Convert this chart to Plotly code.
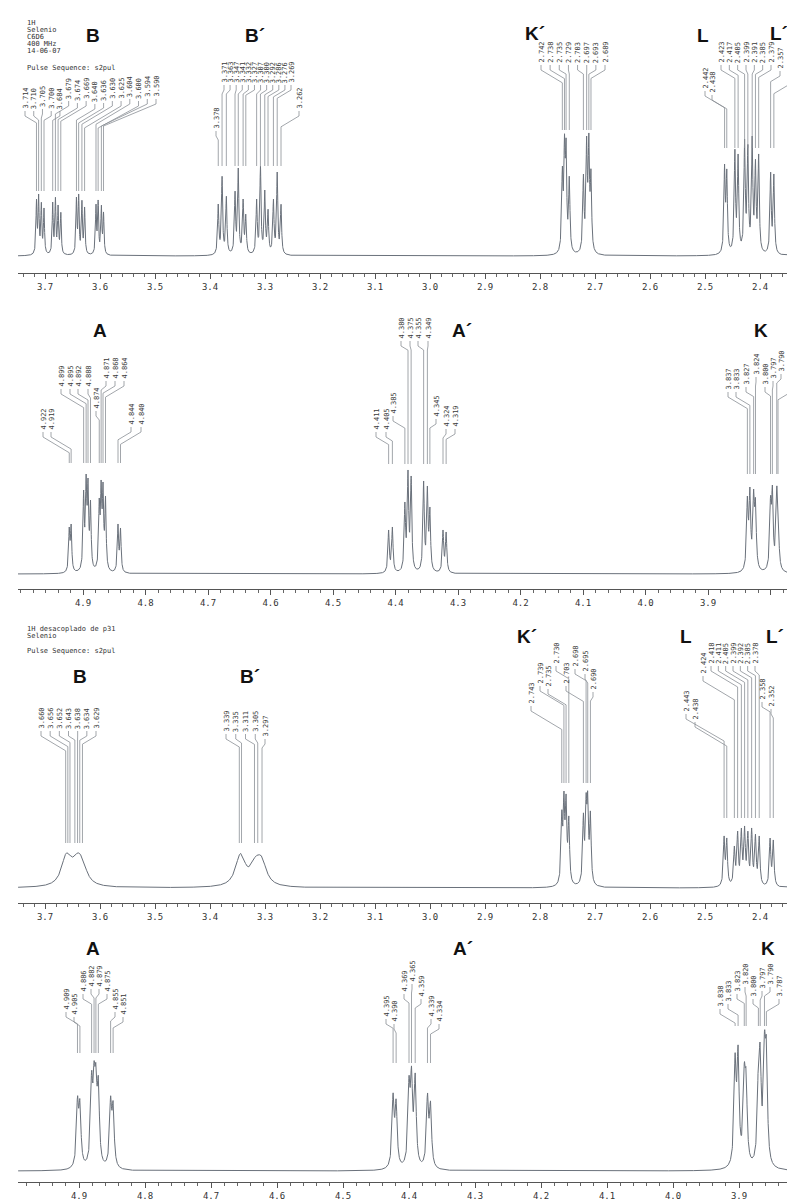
import numpy as np
import plotly.graph_objects as go

W, H = 795, 1200

# ================= DATA =================
# *_lab : values printed above the peaks;  *_pos : where the peaks sit on the drawn ppm axis
# Panel 1 : 1H, Selenio, C6D6, coupled
p1_ticks = [3.7, 3.6, 3.5, 3.4, 3.3, 3.2, 3.1, 3.0, 2.9, 2.8, 2.7, 2.6, 2.5, 2.4]
p1_B_lab = [3.714, 3.710, 3.705, 3.700, 3.684, 3.679, 3.674, 3.669,
            3.640, 3.636, 3.630, 3.625, 3.604, 3.600, 3.594, 3.590]
p1_B_pos = [3.7155, 3.7116, 3.7067, 3.7018, 3.6860, 3.6811, 3.6762, 3.6713,
            3.6428, 3.6388, 3.6329, 3.6280, 3.6073, 3.6034, 3.5975, 3.5936]
p1_B_int = [57, 62, 54, 48, 54, 59, 51, 44, 59, 62, 56, 49, 52, 56, 51, 44]
p1_Bp_lab = [3.378, 3.371, 3.363, 3.347, 3.341, 3.332, 3.327,
             3.307, 3.300, 3.292, 3.286, 3.276, 3.269, 3.262]
p1_Bp_pos = [3.3850, 3.3781, 3.3703, 3.3545, 3.3486, 3.3398, 3.3349,
             3.3152, 3.3083, 3.3004, 3.2945, 3.2847, 3.2778, 3.2709]
p1_Bp_int = [52, 80, 60, 65, 88, 57, 42, 57, 90, 66, 47, 57, 84, 52]
p1_Kp_lab = [2.742, 2.738, 2.735, 2.729, 2.703, 2.697, 2.693, 2.689]
p1_Kp_pos = [2.7594, 2.7555, 2.7526, 2.7467, 2.7211, 2.7152, 2.7112, 2.7073]
p1_Kp_int = [90, 122, 118, 80, 82, 120, 123, 87]
p1_L_lab = [2.442, 2.438, 2.423, 2.417, 2.405, 2.399, 2.391, 2.385, 2.379, 2.357, 2.351]
p1_L_pos = [2.4644, 2.4604, 2.4457, 2.4398, 2.4280, 2.4221, 2.4142, 2.4083, 2.4024, 2.3807, 2.3748]
p1_L_int = [92, 87, 107, 102, 117, 112, 120, 97, 102, 84, 82]

# Panel 2 : coupled, A / A' / K region
p2_ticks = [4.9, 4.8, 4.7, 4.6, 4.5, 4.4, 4.3, 4.2, 4.1, 4.0, 3.9]
p2_A_lab = [4.922, 4.919, 4.899, 4.895, 4.892, 4.888, 4.874, 4.871, 4.868, 4.864, 4.844, 4.840]
p2_A_pos = p2_A_lab
p2_A_int = [47, 50, 84, 100, 96, 74, 76, 94, 92, 78, 50, 46]
p2_Ap_lab = [4.411, 4.405, 4.385, 4.380, 4.375, 4.355, 4.349, 4.345, 4.324, 4.319]
p2_Ap_pos = p2_Ap_lab
p2_Ap_int = [44, 47, 72, 104, 98, 93, 88, 67, 44, 42]
p2_K_lab = [3.837, 3.833, 3.827, 3.824, 3.800, 3.797, 3.790, 3.788]
p2_K_pos = p2_K_lab
p2_K_int = [78, 87, 85, 76, 78, 89, 87, 76]

# Panel 3 : 1H desacoplado de p31
p3_ticks = p1_ticks
p3_B_lab = [3.660, 3.656, 3.652, 3.643, 3.638, 3.634, 3.629]
p3_B_pos = [3.6624, 3.6585, 3.6546, 3.6457, 3.6408, 3.6368, 3.6319]
p3_B_int = [34, 35, 33, 32, 35, 34, 30]
p3_Bp_lab = [3.339, 3.335, 3.311, 3.305, 3.297]
p3_Bp_pos = [3.3467, 3.3427, 3.3191, 3.3132, 3.3054]
p3_Bp_int = [33, 34, 30, 33, 31]
p3_Kp_lab = [2.743, 2.739, 2.735, 2.730, 2.703, 2.698, 2.695, 2.690]
p3_Kp_pos = [2.7604, 2.7565, 2.7526, 2.7476, 2.7211, 2.7162, 2.7132, 2.7083]
p3_Kp_int = [78, 97, 94, 72, 75, 95, 97, 77]
p3_L_lab = [2.443, 2.438, 2.424, 2.418, 2.411, 2.405, 2.399, 2.392, 2.385, 2.378, 2.358, 2.352]
p3_L_pos = [2.4653, 2.4604, 2.4466, 2.4407, 2.4339, 2.4280, 2.4221, 2.4152, 2.4083, 2.4014, 2.3817, 2.3758]
p3_L_int = [52, 50, 42, 57, 60, 62, 57, 60, 54, 52, 50, 48]

# Panel 4 : decoupled, A / A' / K region
p4_ticks = p2_ticks
p4_A_lab = [4.909, 4.905, 4.886, 4.882, 4.879, 4.875, 4.855, 4.851]
p4_A_pos = [4.9023, 4.8986, 4.8809, 4.8772, 4.8744, 4.8707, 4.8521, 4.8483]
p4_A_int = [75, 72, 100, 110, 108, 95, 75, 70]
p4_Ap_lab = [4.395, 4.390, 4.369, 4.365, 4.359, 4.339, 4.334]
p4_Ap_pos = [4.4241, 4.4195, 4.4000, 4.3962, 4.3906, 4.3720, 4.3674]
p4_Ap_int = [78, 72, 95, 105, 98, 78, 70]
p4_K_lab = [3.838, 3.833, 3.823, 3.820, 3.800, 3.797, 3.790, 3.787]
p4_K_pos = [3.9059, 3.9014, 3.8920, 3.8892, 3.8706, 3.8679, 3.8614, 3.8585]
p4_K_int = [118, 126, 108, 102, 113, 128, 140, 134]

header1 = ["1H", "Selenio", "C6D6", "400 MHz", "14-06-07"]
header3 = ["1H desacoplado de p31", "Selenio"]
pulse_seq = "Pulse Sequence: s2pul"

# ================= LAYOUT (pixel geometry of the panels) =================
panels = [
    dict(axis=265, base=248, top=0,   ref_ppm=3.7, ref_px=37, pxpp=550, ticks=p1_ticks, extra=[]),
    dict(axis=581, base=566, top=290, ref_ppm=4.9, ref_px=75, pxpp=625, ticks=p2_ticks, extra=[3.8]),
    dict(axis=895, base=880, top=600, ref_ppm=3.7, ref_px=37, pxpp=550, ticks=p3_ticks, extra=[]),
    dict(axis=1174, base=1163, top=915, ref_ppm=4.9, ref_px=71, pxpp=660, ticks=p4_ticks, extra=[]),
]
XL, XR = 10, 795

def px2ppm(p, px):
    return p["ref_ppm"] - (px - p["ref_px"]) / p["pxpp"]

def ppm2px(p, v):
    return p["ref_px"] + (p["ref_ppm"] - v) * p["pxpp"]

def h_of(p, py):
    return p["base"] - py

def lin(a, b, n):
    return [a + (b - a) * i / (n - 1) for i in range(n)]

groups = [
    # panel 1
    dict(pi=0, lab=p1_B_lab, pos=p1_B_pos, inten=p1_B_int, hw=0.0011, letter=("B", 85, 27),
         lx=lin(17, 148, 16), lb=[102, 102, 100, 102, 102, 92, 94, 92, 95, 94, 92, 92, 90, 92, 90, 90], end=183),
    dict(pi=0, lab=p1_Bp_lab, pos=p1_Bp_pos, inten=p1_Bp_int, hw=0.0013, letter=("B´", 247, 27),
         lx=[208] + lin(216, 283, 12) + [291], lb=[122] + [76] * 12 + [102], end=158),
    dict(pi=0, lab=p1_Kp_lab, pos=p1_Kp_pos, inten=p1_Kp_int, hw=0.0014, letter=("K´", 527, 25),
         lx=lin(533, 597, 8), lb=[56] * 8, end=122),
    dict(pi=0, lab=p1_L_lab, pos=p1_L_pos, inten=p1_L_int, hw=0.0014, letter=("L", 695, 27),
         lx=[697, 704] + lin(713, 763, 7) + [772, 782], lb=[82, 86] + [56] * 7 + [62, 70], end=140),
    # panel 2
    dict(pi=1, lab=p2_A_lab, pos=p2_A_pos, inten=p2_A_int, hw=0.0012, letter=("A", 92, 322),
         lx=[35, 43, 53, 62, 70, 80, 88, 98, 107, 116, 123, 133],
         lb=[423, 423, 380, 380, 380, 380, 402, 372, 372, 372, 418, 418], end=455),
    dict(pi=1, lab=p2_Ap_lab, pos=p2_Ap_pos, inten=p2_Ap_int, hw=0.0013, letter=("A´", 454, 322),
         lx=[368, 378, 385, 393, 402, 410, 420, 428, 438, 447],
         lb=[423, 423, 407, 332, 332, 332, 332, 410, 420, 420], end=456),
    dict(pi=1, lab=p2_K_lab, pos=p2_K_pos, inten=p2_K_int, hw=0.0015, letter=("K", 753, 322),
         lx=[720, 728, 738, 748, 757, 765, 773, 783],
         lb=[383, 383, 378, 368, 378, 372, 365, 378], end=466),
    # panel 3
    dict(pi=2, lab=p3_B_lab, pos=p3_B_pos, inten=p3_B_int, hw=0.010, letter=("B", 72, 668),
         lx=lin(33, 88, 7), lb=[722] * 7, end=835),
    dict(pi=2, lab=p3_Bp_lab, pos=p3_Bp_pos, inten=p3_Bp_int, hw=0.010, letter=("B´", 242, 668),
         lx=lin(218, 257, 5), lb=[725, 725, 725, 725, 730], end=835),
    dict(pi=2, lab=p3_Kp_lab, pos=p3_Kp_pos, inten=p3_Kp_int, hw=0.0016, letter=("K´", 519, 628),
         lx=[523, 532, 540, 548, 558, 567, 577, 585], lb=[697, 677, 680, 657, 677, 660, 665, 683], end=775),
    dict(pi=2, lab=p3_L_lab, pos=p3_L_pos, inten=p3_L_int, hw=0.0016, letter=("L", 678, 628),
         lx=[678, 687, 695] + lin(703, 747, 7) + [754, 763], lb=[705, 713, 667] + [657] * 7 + [693, 700], end=810),
    # panel 4
    dict(pi=3, lab=p4_A_lab, pos=p4_A_pos, inten=p4_A_int, hw=0.0019, letter=("A", 85, 940),
         lx=[58, 66, 75, 83, 91, 99, 107, 115], lb=[1003, 1008, 985, 980, 980, 985, 1003, 1008], end=1045),
    dict(pi=3, lab=p4_Ap_lab, pos=p4_Ap_pos, inten=p4_Ap_int, hw=0.0019, letter=("A´", 455, 940),
         lx=[378, 386, 396, 404, 413, 423, 431], lb=[1010, 1015, 985, 975, 990, 1010, 1015], end=1055),
    dict(pi=3, lab=p4_K_lab, pos=p4_K_pos, inten=p4_K_int, hw=0.0019, letter=("K", 760, 940),
         lx=[712, 720, 729, 737, 745, 754, 762, 771], lb=[1000, 995, 985, 978, 990, 982, 978, 990], end=1018),
]
extra_letters = [(0, "L´", 771, 25), (2, "L´", 767, 628)]

# ================= SPECTRA =================
def amplitudes(c, h, hw):
    c = np.asarray(c, float); h = np.asarray(h, float)
    M = 1.0 / (1.0 + ((c[:, None] - c[None, :]) / hw) ** 2)
    a = h.copy()
    for _ in range(400):
        a = a * h / (M @ a)
    return a

fig = go.Figure()
annotations = []
shapes = []
SPEC_COLOR = "#6a717b"
LINK_COLOR = "#8a8f96"
TEXT_COLOR = "#3a3a3a"

for k, p in enumerate(panels):
    n = "" if k == 0 else str(k + 1)
    left, right = px2ppm(p, XL), px2ppm(p, XR)
    x = np.arange(right, left, 0.0002)
    y = np.zeros_like(x)
    for g in groups:
        if g["pi"] != k:
            continue
        a = amplitudes(g["pos"], g["inten"], g["hw"])
        for ck, ak in zip(g["pos"], a):
            y += ak / (1.0 + ((x - ck) / g["hw"]) ** 2)
    fig.add_trace(go.Scatter(x=x, y=y, mode="lines", line=dict(color=SPEC_COLOR, width=1),
                             xaxis="x" + n, yaxis="y" + n, hoverinfo="skip", showlegend=False))
    tv = list(p["ticks"]) + p["extra"]
    tt = [f"{v:.1f}" for v in p["ticks"]] + ["" for _ in p["extra"]]
    fig.update_layout(**{
        "xaxis" + n: dict(domain=[XL / W, XR / W], range=[left, right], anchor="y" + n,
                          showline=True, linecolor="#555", linewidth=1, ticks="outside",
                          ticklen=5, tickwidth=1, tickcolor="#555", tickvals=tv, ticktext=tt,
                          minor=dict(dtick=0.02, tick0=0, ticks="outside", ticklen=3, tickcolor="#666"),
                          tickfont=dict(family="DejaVu Sans Mono", size=9, color="#333"),
                          showgrid=False, zeroline=False, fixedrange=True),
        "yaxis" + n: dict(domain=[1 - p["axis"] / H, 1 - p["top"] / H],
                          range=[-(p["axis"] - p["base"]), p["base"] - p["top"]],
                          anchor="x" + n, visible=False, fixedrange=True),
    })
    annotations.append(dict(x=px2ppm(p, 782), y=h_of(p, p["axis"] + 13), xref="x" + n, yref="y" + n,
                            text="ppm", showarrow=False,
                            font=dict(family="DejaVu Sans Mono", size=9, color="#333")))

for g in groups:
    p = panels[g["pi"]]
    n = "" if g["pi"] == 0 else str(g["pi"] + 1)
    letter, lxp, lyp = g["letter"]
    annotations.append(dict(x=px2ppm(p, lxp), y=h_of(p, lyp), xref="x" + n, yref="y" + n,
                            text=f"<b>{letter}</b>", showarrow=False,
                            font=dict(family="Liberation Sans", size=19, color="#111")))
    for v, pos, xl, yb in zip(g["lab"], g["pos"], g["lx"], g["lb"]):
        annotations.append(dict(x=px2ppm(p, xl), y=h_of(p, yb), xref="x" + n, yref="y" + n,
                                text=f"{v:.3f}", textangle=-90, showarrow=False,
                                xanchor="center", yanchor="bottom", borderpad=0,
                                font=dict(family="DejaVu Sans Mono", size=7, color=TEXT_COLOR)))
        xp = ppm2px(p, pos)
        dv = min(max(abs(xp - xl) * 0.6, 4), 22)
        pts = [(xl, yb + 1), (xl, yb + 6), (xp, yb + 6 + dv), (xp, g["end"])]
        path = "M " + " L ".join(f"{px2ppm(p, a):.5f},{h_of(p, b):.2f}" for a, b in pts)
        shapes.append(dict(type="path", path=path, xref="x" + n, yref="y" + n,
                           line=dict(color=LINK_COLOR, width=0.8)))

for pi, letter, lxp, lyp in extra_letters:
    p = panels[pi]
    n = "" if pi == 0 else str(pi + 1)
    annotations.append(dict(x=px2ppm(p, lxp), y=h_of(p, lyp), xref="x" + n, yref="y" + n,
                            text=f"<b>{letter}</b>", showarrow=False,
                            font=dict(family="Liberation Sans", size=19, color="#111")))

def header_line(txt, x, y):
    annotations.append(dict(x=x / W, y=1 - y / H, xref="paper", yref="paper", text=txt,
                            showarrow=False, xanchor="left", yanchor="middle",
                            font=dict(family="DejaVu Sans Mono", size=7, color="#333")))

for i, t in enumerate(header1):
    header_line(t, 17, 15 + 7 * i)
header_line(pulse_seq, 17, 60)
for i, t in enumerate(header3):
    header_line(t, 17, 621 + 7 * i)
header_line(pulse_seq, 17, 643)

fig.update_layout(width=W, height=H, margin=dict(l=0, r=0, t=0, b=0),
                  paper_bgcolor="white", plot_bgcolor="white",
                  annotations=annotations, shapes=shapes, showlegend=False)
fig.write_html("out.html")
